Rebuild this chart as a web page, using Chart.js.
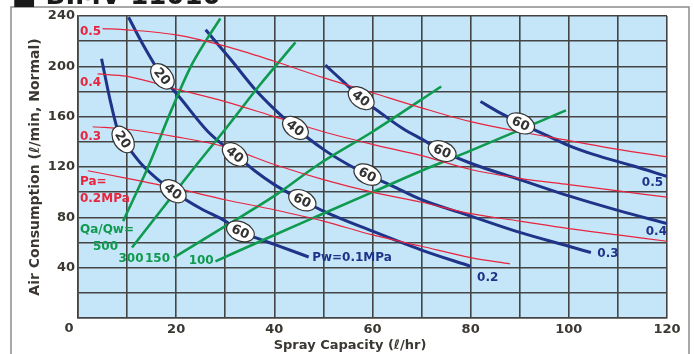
<!DOCTYPE html>
<html>
<head>
<meta charset="utf-8">
<script src="https://cdn.jsdelivr.net/npm/chart.js@4.4.0/dist/chart.umd.min.js"></script>
<style>
  html, body { margin: 0; padding: 0; background: #fff; }
  canvas { display: block; }
</style>
</head>
<body>
<canvas id="grafico" width="694" height="354"></canvas>
<script>
// ======= Dados =======
const xTicks = [20, 40, 60, 80, 100, 120];
const yTicks = [40, 80, 120, 160, 200, 240];

// Pa = pressão do ar (linhas vermelhas)
const pa02 = [[2,117],[10,111],[20,103],[30,94],[40,86],[50,77],[60,66],[70,57],[80,48],[88,43]];
const pa03 = [[3,152],[10,150],[20,144],[30,136],[40,122],[50,110],[60,100],[70,92],[80,83],[90,77],[100,71],[110,66],[120,61]];
const pa04 = [[4,194],[10,192],[20,182],[30,172],[40,160],[50,148],[60,138],[70,129],[80,118],[90,111],[100,106],[110,101],[120,96]];
const pa05 = [[5,230],[10,229],[20,225],[30,216],[40,204],[50,191],[60,179],[70,167],[80,156],[90,148],[100,141],[110,134],[120,128]];

// Pw = pressão da água (linhas azuis)
const pw01 = [[4.8,206],[6.5,174],[8.2,148],[10,137],[13,122],[16,111],[20,99],[25,87],[30,77],[33,69],[36,64],[40,58.5],[47,48.5]];
const pw02 = [[10.3,239],[13,219],[17,193],[21,174],[26.5,148],[32,130],[36,117],[40,106],[45,95],[50,85],[60,69],[70,54],[80,41]];
const pw03 = [[26,229],[31,206],[36,182],[40,166],[44,152],[50,134],[55,122],[59,114],[64,105],[70,94],[80,81],[90,68],[100,57],[104.5,52]];
const pw04 = [[50.4,201],[54,188],[57.6,175],[62,162],[66,151],[71,140],[74,133],[80,123],[90,110],[100,97],[110,85.5],[120,75]];
const pw05 = [[82,172],[86,163],[90,155],[95,146],[100,137],[105,130],[113,121],[120,112.5]];

// Qa/Qw = relação ar/água (linhas verdes)
const qa500 = [[9.2,77],[14.5,122],[19,165],[23,200],[26,220],[29,238]];
const qa300 = [[11,56],[18,91],[24,121],[30,150],[37,185],[44.3,219]];
const qa150 = [[19.5,48],[30,73],[40,97],[49,122],[60,148],[74,184]];
const qa100 = [[28,45],[40,66],[50,83],[60,100],[70,117],[80,133],[99.4,165]];

// marcas ovais sobre as curvas azuis (curva, x, texto)
const marcas = [
  ['pw01', 9.2, '20'], ['pw01', 19.4, '40'], ['pw01', 33.1, '60'],
  ['pw02', 17.2, '20'], ['pw02', 32, '40'], ['pw02', 45.7, '60'],
  ['pw03', 44.3, '40'], ['pw03', 59, '60'],
  ['pw04', 57.7, '40'], ['pw04', 74.2, '60'],
  ['pw05', 90.2, '60']
];

// ======= Estilos =======
const AZUL = '#1f3388';
const VERMELHO = '#e8243f';
const VERDE = '#0f9a4f';
const GRADE = '#444444';
const TEXTO = '#3b3732';
const FONTE = '"DejaVu Sans", sans-serif';

const linha = (id, pts, cor, largura) => ({
  label: id,
  data: pts.map(([x, y]) => ({ x, y })),
  borderColor: cor,
  borderWidth: largura,
  pointRadius: 0,
  fill: false,
  cubicInterpolationMode: 'monotone'
});

// rótulos de texto: [texto, x, y, cor, alinhamento]
const rotulos = [
  ['0.5', 0.4, 227.3, VERMELHO, 'left'],
  ['0.4', 0.4, 186.8, VERMELHO, 'left'],
  ['0.3', 0.4, 144, VERMELHO, 'left'],
  ['Pa=', 0.4, 108.3, VERMELHO, 'left'],
  ['0.2MPa', 0.4, 94.8, VERMELHO, 'left'],
  ['Qa/Qw=', 0.4, 70.2, VERDE, 'left'],
  ['500', 5.6, 56.9, VERDE, 'center'],
  ['300', 10.8, 46.9, VERDE, 'center'],
  ['150', 16.2, 46.9, VERDE, 'center'],
  ['100', 25.1, 45.6, VERDE, 'center'],
  ['Pw=0.1MPa', 47.7, 47.7, AZUL, 'left'],
  ['0.2', 81.3, 31.8, AZUL, 'left'],
  ['0.3', 105.8, 50.9, AZUL, 'left'],
  ['0.4', 120, 68.5, AZUL, 'right'],
  ['0.5', 119.2, 107, AZUL, 'right']
];

// ======= Plugin de desenho extra =======
const extras = {
  id: 'extras',
  beforeDraw(chart) {
    const { ctx, chartArea: a } = chart;
    ctx.save();
    // moldura externa
    ctx.strokeStyle = '#8c8c8c';
    ctx.lineWidth = 1.5;
    ctx.beginPath();
    ctx.moveTo(11, 360); ctx.lineTo(11, 7); ctx.lineTo(689, 7); ctx.lineTo(689, 360);
    ctx.stroke();
    // título (cortado no topo)
    ctx.fillStyle = '#1a1a1a';
    ctx.font = 'bold 26px ' + FONTE;
    ctx.textBaseline = 'alphabetic';
    ctx.fillText('■ BIMV 11010', 12, 4);
    // fundo da área do gráfico
    ctx.fillStyle = '#c4e6f8';
    ctx.fillRect(a.left, a.top, a.width, a.height);
    ctx.restore();
  },
  afterDatasetsDraw(chart) {
    const { ctx, chartArea: a } = chart;
    const xs = chart.scales.x, ys = chart.scales.y;
    const curvas = { pw01, pw02, pw03, pw04, pw05 };
    ctx.save();

    // ovais
    marcas.forEach(([nome, x, txt]) => {
      const pts = curvas[nome];
      let i = 0;
      while (i < pts.length - 2 && pts[i + 1][0] < x) i++;
      const [x0, y0] = pts[i], [x1, y1] = pts[i + 1];
      const y = y0 + (y1 - y0) * (x - x0) / (x1 - x0);
      const px = xs.getPixelForValue(x), py = ys.getPixelForValue(y);
      const ang = Math.atan2(ys.getPixelForValue(y1) - ys.getPixelForValue(y0),
                             xs.getPixelForValue(x1) - xs.getPixelForValue(x0));
      ctx.save();
      ctx.translate(px, py);
      ctx.rotate(ang);
      ctx.beginPath();
      ctx.ellipse(0, 0, 14.5, 9.5, 0, 0, Math.PI * 2);
      ctx.fillStyle = '#fff';
      ctx.fill();
      ctx.strokeStyle = '#333';
      ctx.lineWidth = 1.2;
      ctx.stroke();
      ctx.fillStyle = '#333';
      ctx.font = 'bold 13px ' + FONTE;
      ctx.textAlign = 'center';
      ctx.textBaseline = 'middle';
      ctx.fillText(txt, 0, 1);
      ctx.restore();
    });

    // rótulos
    ctx.font = 'bold 12px ' + FONTE;
    ctx.textBaseline = 'middle';
    rotulos.forEach(([t, x, y, cor, al]) => {
      ctx.fillStyle = cor;
      ctx.textAlign = al;
      ctx.fillText(t, xs.getPixelForValue(x), ys.getPixelForValue(y));
    });

    // zero no canto
    ctx.fillStyle = TEXTO;
    ctx.font = 'bold 13px ' + FONTE;
    ctx.textAlign = 'center';
    ctx.fillText('0', a.left - 9, a.bottom + 11);

    // título do eixo x
    ctx.font = 'bold 13px ' + FONTE;
    ctx.fillText('Spray Capacity (ℓ/hr)', 350, 346);
    ctx.restore();
  }
};

// ======= Gráfico =======
new Chart(document.getElementById('grafico'), {
  type: 'line',
  data: {
    datasets: [
      linha('pa02', pa02, VERMELHO, 1.2),
      linha('pa03', pa03, VERMELHO, 1.2),
      linha('pa04', pa04, VERMELHO, 1.2),
      linha('pa05', pa05, VERMELHO, 1.2),
      linha('qa500', qa500, VERDE, 2.6),
      linha('qa300', qa300, VERDE, 2.6),
      linha('qa150', qa150, VERDE, 2.6),
      linha('qa100', qa100, VERDE, 2.6),
      linha('pw01', pw01, AZUL, 3),
      linha('pw02', pw02, AZUL, 3),
      linha('pw03', pw03, AZUL, 3),
      linha('pw04', pw04, AZUL, 3),
      linha('pw05', pw05, AZUL, 3)
    ]
  },
  options: {
    responsive: false,
    animation: false,
    layout: { padding: { left: 0, right: 27, top: 16, bottom: 0 } },
    plugins: { legend: { display: false }, tooltip: { enabled: false } },
    scales: {
      x: {
        type: 'linear', min: 0, max: 120,
        ticks: {
          stepSize: 10, autoSkip: false, maxRotation: 0, padding: 4,
          color: TEXTO, font: { family: FONTE, size: 13, weight: 'bold' },
          callback: v => xTicks.includes(v) ? String(v) : ''
        },
        grid: { color: GRADE, lineWidth: 1.6, drawTicks: false },
        border: { color: GRADE, width: 1.6 },
        afterFit: s => { s.height = 36; }
      },
      y: {
        type: 'linear', min: 0, max: 240,
        ticks: {
          stepSize: 20, autoSkip: false, padding: 3,
          color: TEXTO, font: { family: FONTE, size: 13, weight: 'bold' },
          callback: v => yTicks.includes(v) ? String(v) : ''
        },
        grid: { color: GRADE, lineWidth: 1.6, drawTicks: false },
        border: { color: GRADE, width: 1.6 },
        title: {
          display: true, text: 'Air Consumption (ℓ/min, Normal)', color: TEXTO,
          font: { family: FONTE, size: 14, weight: 'bold' },
          padding: { top: 27, bottom: 0 }
        },
        afterFit: s => { s.width = 78; }
      }
    }
  },
  plugins: [extras]
});
</script>
</body>
</html>
